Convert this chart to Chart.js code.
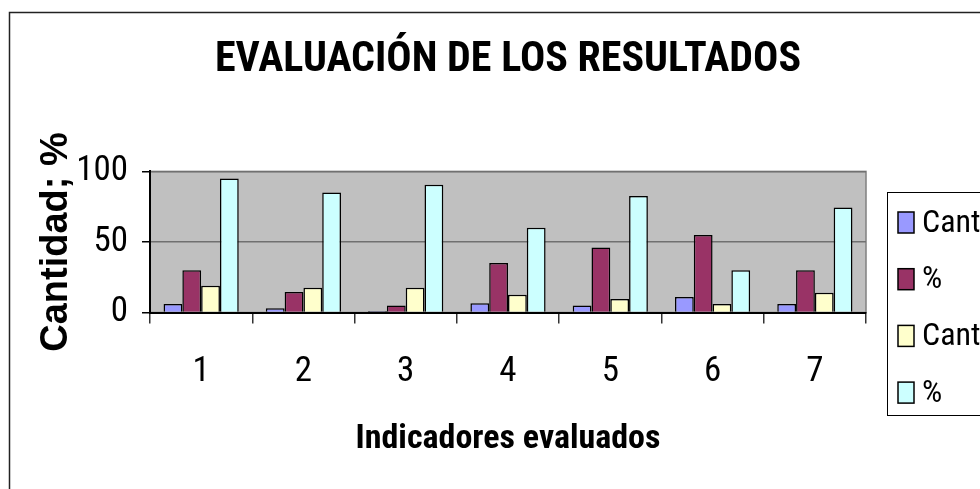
<!DOCTYPE html>
<html>
<head>
<meta charset="utf-8">
<title>Evaluación de los resultados</title>
<script src="https://cdn.jsdelivr.net/npm/chart.js@4.4.1/dist/chart.umd.min.js"></script>
<style>
    html, body { margin: 0; padding: 0; background: #fff; overflow: hidden; }
    #wrap { position: relative; width: 980px; height: 489px; }
</style>
</head>
<body>
<div id="wrap"><canvas id="evalChart"></canvas></div>
<script>
// Datos
const indicadores = ['1', '2', '3', '4', '5', '6', '7'];
const cantidad1 = [6, 3, 1, 6.5, 5, 11, 6];
const porcentaje1 = [30, 14.5, 5, 35, 46, 55, 30];
const cantidad2 = [19, 17.5, 17.5, 12.5, 9.5, 6, 14];
const porcentaje2 = [95, 85, 90.5, 60, 82.5, 30, 74.5];
const yTicks = [0, 50, 100];

// Roboto en ancho condensado imita la Arial Narrow del original
const NARROW = "Roboto, 'Liberation Sans', sans-serif";
const WIDE = "'Liberation Sans', Arial, sans-serif";

// fondo gris del área de trazado y marco exterior
const plotBackground = {
    id: 'plotBackground',
    beforeDraw(chart) {
        const { ctx, chartArea: a } = chart;
        ctx.save();
        ctx.fillStyle = '#C0C0C0';
        ctx.fillRect(a.left, a.top, a.right - a.left, a.bottom - a.top);
        ctx.strokeStyle = '#808080';
        ctx.lineWidth = 1.5;
        ctx.strokeRect(a.left, a.top, a.right - a.left, a.bottom - a.top);
        ctx.strokeStyle = '#222';
        ctx.lineWidth = 1.5;
        ctx.strokeRect(9.5, 12.5, 1400, 1400);
        ctx.restore();
    }
};

// leyenda con marco, a la derecha (cortada por el borde)
const boxLegend = {
    id: 'boxLegend',
    afterDraw(chart) {
        const { ctx } = chart;
        ctx.save();
        ctx.strokeStyle = '#000';
        ctx.lineWidth = 1;
        ctx.strokeRect(887.5, 192.5, 300, 223);
        ctx.font = 'condensed 32px ' + NARROW;
        ctx.textBaseline = 'middle';
        ctx.textAlign = 'left';
        chart.data.datasets.forEach((ds, i) => {
            const cy = 222.5 + i * 56.7;
            ctx.fillStyle = ds.backgroundColor;
            ctx.fillRect(898, cy - 10.5, 16, 21);
            ctx.strokeStyle = '#000';
            ctx.lineWidth = 1.5;
            ctx.strokeRect(898, cy - 10.5, 16, 21);
            ctx.fillStyle = '#000';
            ctx.fillText(ds.label, 922, cy + 1);
        });
        ctx.restore();
    }
};

function makeDataset(label, values, color) {
    return {
        label: label,
        data: values,
        backgroundColor: color,
        borderColor: '#000',
        borderWidth: 1.5,
        categoryPercentage: 0.735,
        barPercentage: 1
    };
}

new Chart(document.getElementById('evalChart'), {
    type: 'bar',
    data: {
        labels: indicadores,
        datasets: [
            makeDataset('Cantidad', cantidad1, '#9999FF'),
            makeDataset('%', porcentaje1, '#993366'),
            makeDataset('Cantidad', cantidad2, '#FFFFCC'),
            makeDataset('%', porcentaje2, '#CCFFFF')
        ]
    },
    options: {
        responsive: true,
        maintainAspectRatio: false,
        animation: false,
        layout: { padding: { left: 0, right: 114, top: 0, bottom: 0 } },
        plugins: {
            legend: { display: false },
            tooltip: { enabled: false },
            title: {
                display: true,
                fullSize: false,
                text: 'EVALUACIÓN DE LOS RESULTADOS',
                color: '#000',
                font: { family: NARROW, size: 42, weight: 'condensed bold', lineHeight: 1.2 },
                padding: { top: 35, bottom: 86 }
            }
        },
        scales: {
            x: {
                grid: {
                    display: true,
                    drawOnChartArea: false,
                    drawTicks: true,
                    tickLength: 11,
                    color: '#333',
                    lineWidth: 1.5,
                    offset: true
                },
                border: { display: true, color: '#000', width: 2 },
                ticks: {
                    color: '#000',
                    font: { family: NARROW, size: 35, weight: 'condensed' },
                    padding: 28,
                    maxRotation: 0
                },
                title: {
                    display: true,
                    text: 'Indicadores evaluados',
                    color: '#000',
                    font: { family: NARROW, size: 34, weight: 'condensed bold', lineHeight: 1.2 },
                    padding: { top: 0, bottom: 29 }
                },
                afterFit(scale) { scale.height = 176.5; }
            },
            y: {
                min: 0,
                max: 100,
                afterBuildTicks(scale) { scale.ticks = yTicks.map(v => ({ value: v })); },
                grid: {
                    color: '#707070',
                    lineWidth: 1.5,
                    tickColor: '#000',
                    tickLength: 8
                },
                border: { display: true, color: '#000', width: 2 },
                ticks: {
                    color: '#000',
                    font: { family: NARROW, size: 35, weight: 'condensed' },
                    padding: 14
                },
                title: {
                    display: true,
                    text: 'Cantidad; %',
                    color: '#000',
                    font: { family: WIDE, size: 38, weight: 'bold', lineHeight: 1.2 },
                    padding: { top: 34, bottom: 0 }
                },
                afterFit(scale) { scale.width = 150; }
            }
        }
    },
    plugins: [plotBackground, boxLegend]
});
</script>
</body>
</html>
